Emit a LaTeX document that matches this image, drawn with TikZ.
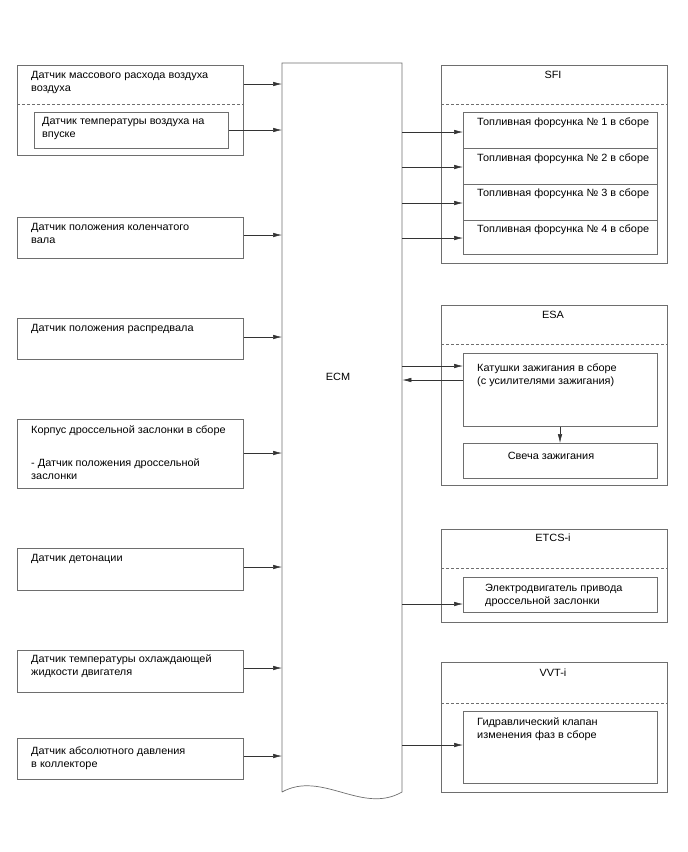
\documentclass[tikz,border=0pt]{standalone}
\usepackage{fontspec}
\setmainfont{Liberation Sans}[FakeStretch=1.04]
\usetikzlibrary{arrows.meta}
\definecolor{ln}{RGB}{110,110,110}
\tikzset{
  box/.style={draw=ln, line width=0.7pt, inner sep=0, anchor=north west},
  txt/.style={anchor=base west, inner sep=0, align=left, font=\fontsize{10.5}{13}\selectfont},
  ctxt/.style={anchor=base, inner sep=0, font=\fontsize{10.5}{13}\selectfont},
  sep/.style={draw=ln, line width=0.6pt, dash pattern=on 3pt off 2pt},
  arr/.style={draw=black!80, line width=0.55pt, -{Latex[length=9pt,width=4.5pt]}},
}
\begin{document}
\begin{tikzpicture}[x=1pt,y=-1pt]
\useasboundingbox (0,0) rectangle (688,852);
% ECM
\node[inner sep=0, anchor=north west, minimum width=120pt, minimum height=729pt] (ecm) at (282,63) {};
\draw[draw=ln, line width=0.7pt] (282,792) -- (282,63) -- (402,63) -- (402,792)
  .. controls (362,815) and (322,770) .. (282,792);
\node[ctxt] (ecmt) at (338,380) {ECM};

% left boxes (multi-line nodes are placed at the baseline of their last line)
\node[box, minimum width=226pt, minimum height=90pt] (b1) at (17,65) {};
\draw[sep] (b1.west |- 0,104) coordinate (d1a) -- (b1.east |- 0,104) coordinate (d1b);
\node[txt] (t1) at (31,91.5) {Датчик массового расхода воздуха\\воздуха};
\node[box, minimum width=194pt, minimum height=36pt] (b1i) at (34,112) {};
\node[txt] (t1i) at (42,137.5) {Датчик температуры воздуха на\\впуске};

\node[box, minimum width=226pt, minimum height=41pt] (b2) at (17,217) {};
\node[txt] (t2) at (31,243.5) {Датчик положения коленчатого\\вала};

\node[box, minimum width=226pt, minimum height=41pt] (b3) at (17,318) {};
\node[txt] (t3) at (31,331.5) {Датчик положения распредвала};

\node[box, minimum width=226pt, minimum height=69pt] (b4) at (17,419) {};
\node[txt] (t4) at (31,433.5) {Корпус дроссельной заслонки в сборе};
\node[txt] (t4b) at (31,479.5) {- Датчик положения дроссельной\\заслонки};

\node[box, minimum width=226pt, minimum height=42pt] (b5) at (17,548) {};
\node[txt] (t5) at (31,561.5) {Датчик детонации};

\node[box, minimum width=226pt, minimum height=42pt] (b6) at (17,650) {};
\node[txt] (t6) at (31,675.5) {Датчик температуры охлаждающей\\жидкости двигателя};

\node[box, minimum width=226pt, minimum height=41pt] (b7) at (17,738) {};
\node[txt] (t7) at (31,767) {Датчик абсолютного давления\\в коллекторе};

% left arrows
\draw[arr] (b1.east |- 0,84) -- (ecm.west |- 0,84);
\draw[arr] (b1i.east |- 0,130) -- (ecm.west |- 0,130);
\draw[arr] (b2.east |- 0,235) -- (ecm.west |- 0,235);
\draw[arr] (b3.east |- 0,337) -- (ecm.west |- 0,337);
\draw[arr] (b4.east |- 0,453) -- (ecm.west |- 0,453);
\draw[arr] (b5.east |- 0,567) -- (ecm.west |- 0,567);
\draw[arr] (b6.east |- 0,668) -- (ecm.west |- 0,668);
\draw[arr] (b7.east |- 0,756) -- (ecm.west |- 0,756);

% SFI
\node[box, minimum width=226pt, minimum height=198pt] (sfi) at (441,65) {};
\node[ctxt] (sfit) at (553,78.5) {SFI};
\draw[sep] (sfi.west |- 0,104) coordinate (d2a) -- (sfi.east |- 0,104) coordinate (d2b);
\node[box, minimum width=194pt, minimum height=36pt] (inj1) at (463,112) {};
\node[box, minimum width=194pt, minimum height=36pt] (inj2) at (463,148) {};
\node[box, minimum width=194pt, minimum height=36pt] (inj3) at (463,184) {};
\node[box, minimum width=194pt, minimum height=34pt] (inj4) at (463,220) {};
\node[txt] (ti1) at (477,125.5) {Топливная форсунка № 1 в сборе};
\node[txt] (ti2) at (477,161.5) {Топливная форсунка № 2 в сборе};
\node[txt] (ti3) at (477,196.5) {Топливная форсунка № 3 в сборе};
\node[txt] (ti4) at (477,232.5) {Топливная форсунка № 4 в сборе};
\draw[arr] (ecm.east |- 0,132) -- (inj1.west |- 0,132);
\draw[arr] (ecm.east |- 0,167) -- (inj2.west |- 0,167);
\draw[arr] (ecm.east |- 0,203) -- (inj3.west |- 0,203);
\draw[arr] (ecm.east |- 0,238) -- (inj4.west |- 0,238);

% ESA
\node[box, minimum width=226pt, minimum height=180pt] (esa) at (441,305) {};
\node[ctxt] (esat) at (553,318.5) {ESA};
\draw[sep] (esa.west |- 0,344) coordinate (d3a) -- (esa.east |- 0,344) coordinate (d3b);
\node[box, minimum width=194pt, minimum height=73pt] (coil) at (463,353) {};
\node[txt] (tcoil) at (477,384.5) {Катушки зажигания в сборе\\(с усилителями зажигания)};
\node[box, minimum width=194pt, minimum height=35pt] (plug) at (463,443) {};
\node[ctxt] (tplug) at (551,459.5) {Свеча зажигания};
\draw[arr] (ecm.east |- 0,366) -- (coil.west |- 0,366);
\draw[arr] (coil.west |- 0,380) -- (ecm.east |- 0,380);
\draw[arr] (coil.south -| 560,0) -- (plug.north -| 560,0);

% ETCS-i
\node[box, minimum width=226pt, minimum height=93pt] (etcs) at (441,529) {};
\node[ctxt] (etcst) at (553,541.5) {ETCS-i};
\draw[sep] (etcs.west |- 0,568) coordinate (d4a) -- (etcs.east |- 0,568) coordinate (d4b);
\node[box, minimum width=194pt, minimum height=35pt] (motor) at (463,577) {};
\node[txt] (tmotor) at (485,604.5) {Электродвигатель привода\\дроссельной заслонки};
\draw[arr] (ecm.east |- 0,604) -- (motor.west |- 0,604);

% VVT-i
\node[box, minimum width=226pt, minimum height=130pt] (vvt) at (441,662) {};
\node[ctxt] (vvtt) at (553,676.5) {VVT-i};
\draw[sep] (vvt.west |- 0,703) coordinate (d5a) -- (vvt.east |- 0,703) coordinate (d5b);
\node[box, minimum width=194pt, minimum height=72pt] (ocv) at (463,711) {};
\node[txt] (tocv) at (477,738.5) {Гидравлический клапан\\изменения фаз в сборе};
\draw[arr] (ecm.east |- 0,745) -- (ocv.west |- 0,745);
\end{tikzpicture}
\end{document}
